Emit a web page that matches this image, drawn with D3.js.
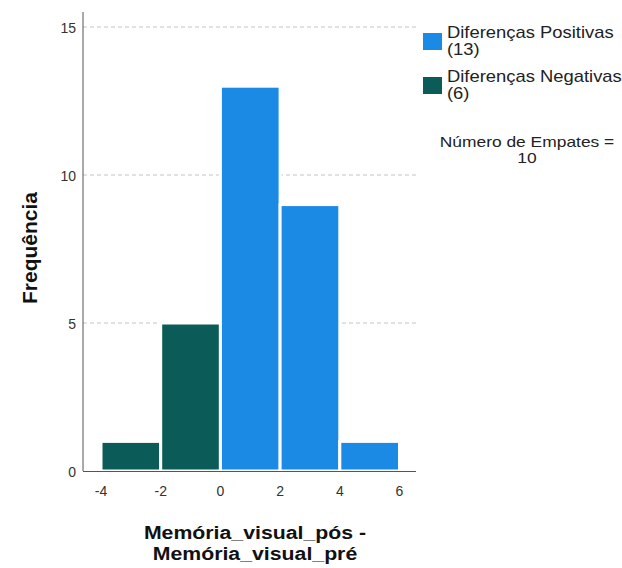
<!DOCTYPE html>
<html>
<head>
<meta charset="utf-8">
<script src="https://cdn.jsdelivr.net/npm/d3@7"></script>
<style>
  body { margin: 0; background: #fff; }
  svg { display: block; font-family: Arial, "Liberation Sans", sans-serif; }
</style>
</head>
<body>
<svg id="chart" width="622" height="568"></svg>
<script>
// Histogram of differences (pós - pré), bins of width 2
const binStarts = [-4, -2, 0, 2, 4];
const binCounts = [1, 5, 13, 9, 1];
const binGroup = ["neg", "neg", "pos", "pos", "pos"];
const xTicks = [-4, -2, 0, 2, 4, 6];
const yTicks = [0, 5, 10, 15];
const gridValues = [5, 10, 15];
const legendLabels = ["Diferenças Positivas", "Diferenças Negativas"];
const legendCounts = [13, 6];
const legendKeys = ["pos", "neg"];
const tiesCount = 10;

const colors = { pos: "#1a8ae4", neg: "#0b5c58" };

const svg = d3.select("#chart");

// horizontally widened text block anchored at ax
function wideGroup(ax, sx) {
  return svg.append("g")
    .attr("transform", `translate(${ax},0) scale(${sx},1) translate(${-ax},0)`);
}

const x = d3.scaleLinear().domain([-4, 6]).range([101, 399.5]);
const y = d3.scaleLinear().domain([0, 15]).range([471, 27]);

const axisLeft = 83, axisRight = 416, axisTop = 12;

// dashed gridlines
svg.append("g").selectAll("line").data(gridValues).join("line")
  .attr("x1", axisLeft).attr("x2", axisRight)
  .attr("y1", d => y(d)).attr("y2", d => y(d))
  .attr("stroke", "#c4c4c4").attr("stroke-width", 1)
  .attr("stroke-dasharray", "4,3");

// bars
svg.append("g").selectAll("rect").data(binStarts).join("rect")
  .attr("x", d => x(d))
  .attr("width", d => x(d + 2) - x(d))
  .attr("y", (d, i) => y(binCounts[i]))
  .attr("height", (d, i) => y(0) - y(binCounts[i]))
  .attr("fill", (d, i) => colors[binGroup[i]])
  .attr("stroke", "#fff").attr("stroke-width", 3);

// axis lines
svg.append("line").attr("x1", axisLeft).attr("x2", axisLeft)
  .attr("y1", axisTop).attr("y2", y(0)).attr("stroke", "#555").attr("stroke-width", 1);
svg.append("line").attr("x1", axisLeft).attr("x2", axisRight)
  .attr("y1", y(0) + 0.5).attr("y2", y(0) + 0.5).attr("stroke", "#555").attr("stroke-width", 1);

// y tick labels
svg.append("g").selectAll("text").data(yTicks).join("text")
  .attr("x", 76).attr("y", d => y(d) + 1).attr("dy", "0.35em")
  .attr("text-anchor", "end").attr("font-size", 14).attr("fill", "#333")
  .text(d => d);

// x tick labels
svg.append("g").selectAll("text").data(xTicks).join("text")
  .attr("x", d => x(d)).attr("y", 496)
  .attr("text-anchor", "middle").attr("font-size", 14).attr("fill", "#333")
  .text(d => d);

// axis titles
svg.append("text")
  .attr("transform", "translate(37,248) rotate(-90)")
  .attr("text-anchor", "middle").attr("font-size", 21).attr("font-weight", "bold")
  .attr("fill", "#111").text("Frequência");

const xTitleG = wideGroup(255, 1.12);
["Memória_visual_pós -", "Memória_visual_pré"].forEach((line, i) => {
  xTitleG.append("text")
    .attr("x", 255).attr("y", 539 + i * 21)
    .attr("text-anchor", "middle").attr("font-size", 19).attr("font-weight", "bold")
    .attr("fill", "#111").text(line);
});

// legend
const legend = svg.append("g");
const legendText = wideGroup(447, 1.15);
legendKeys.forEach((k, i) => {
  const top = 33 + i * 44;
  legend.append("rect").attr("x", 423).attr("y", top).attr("width", 19).attr("height", 17)
    .attr("fill", colors[k]);
  legendText.append("text").attr("x", 447).attr("y", top + 5)
    .attr("font-size", 16).attr("fill", "#222").text(legendLabels[i]);
  legendText.append("text").attr("x", 447).attr("y", top + 22)
    .attr("font-size", 16).attr("fill", "#222").text("(" + legendCounts[i] + ")");
});

const tiesG = wideGroup(527, 1.16);
["Número de Empates =", String(tiesCount)].forEach((line, i) => {
  tiesG.append("text").attr("x", 527).attr("y", 147 + i * 16)
    .attr("text-anchor", "middle").attr("font-size", 15).attr("fill", "#222")
    .text(line);
});
</script>
</body>
</html>
